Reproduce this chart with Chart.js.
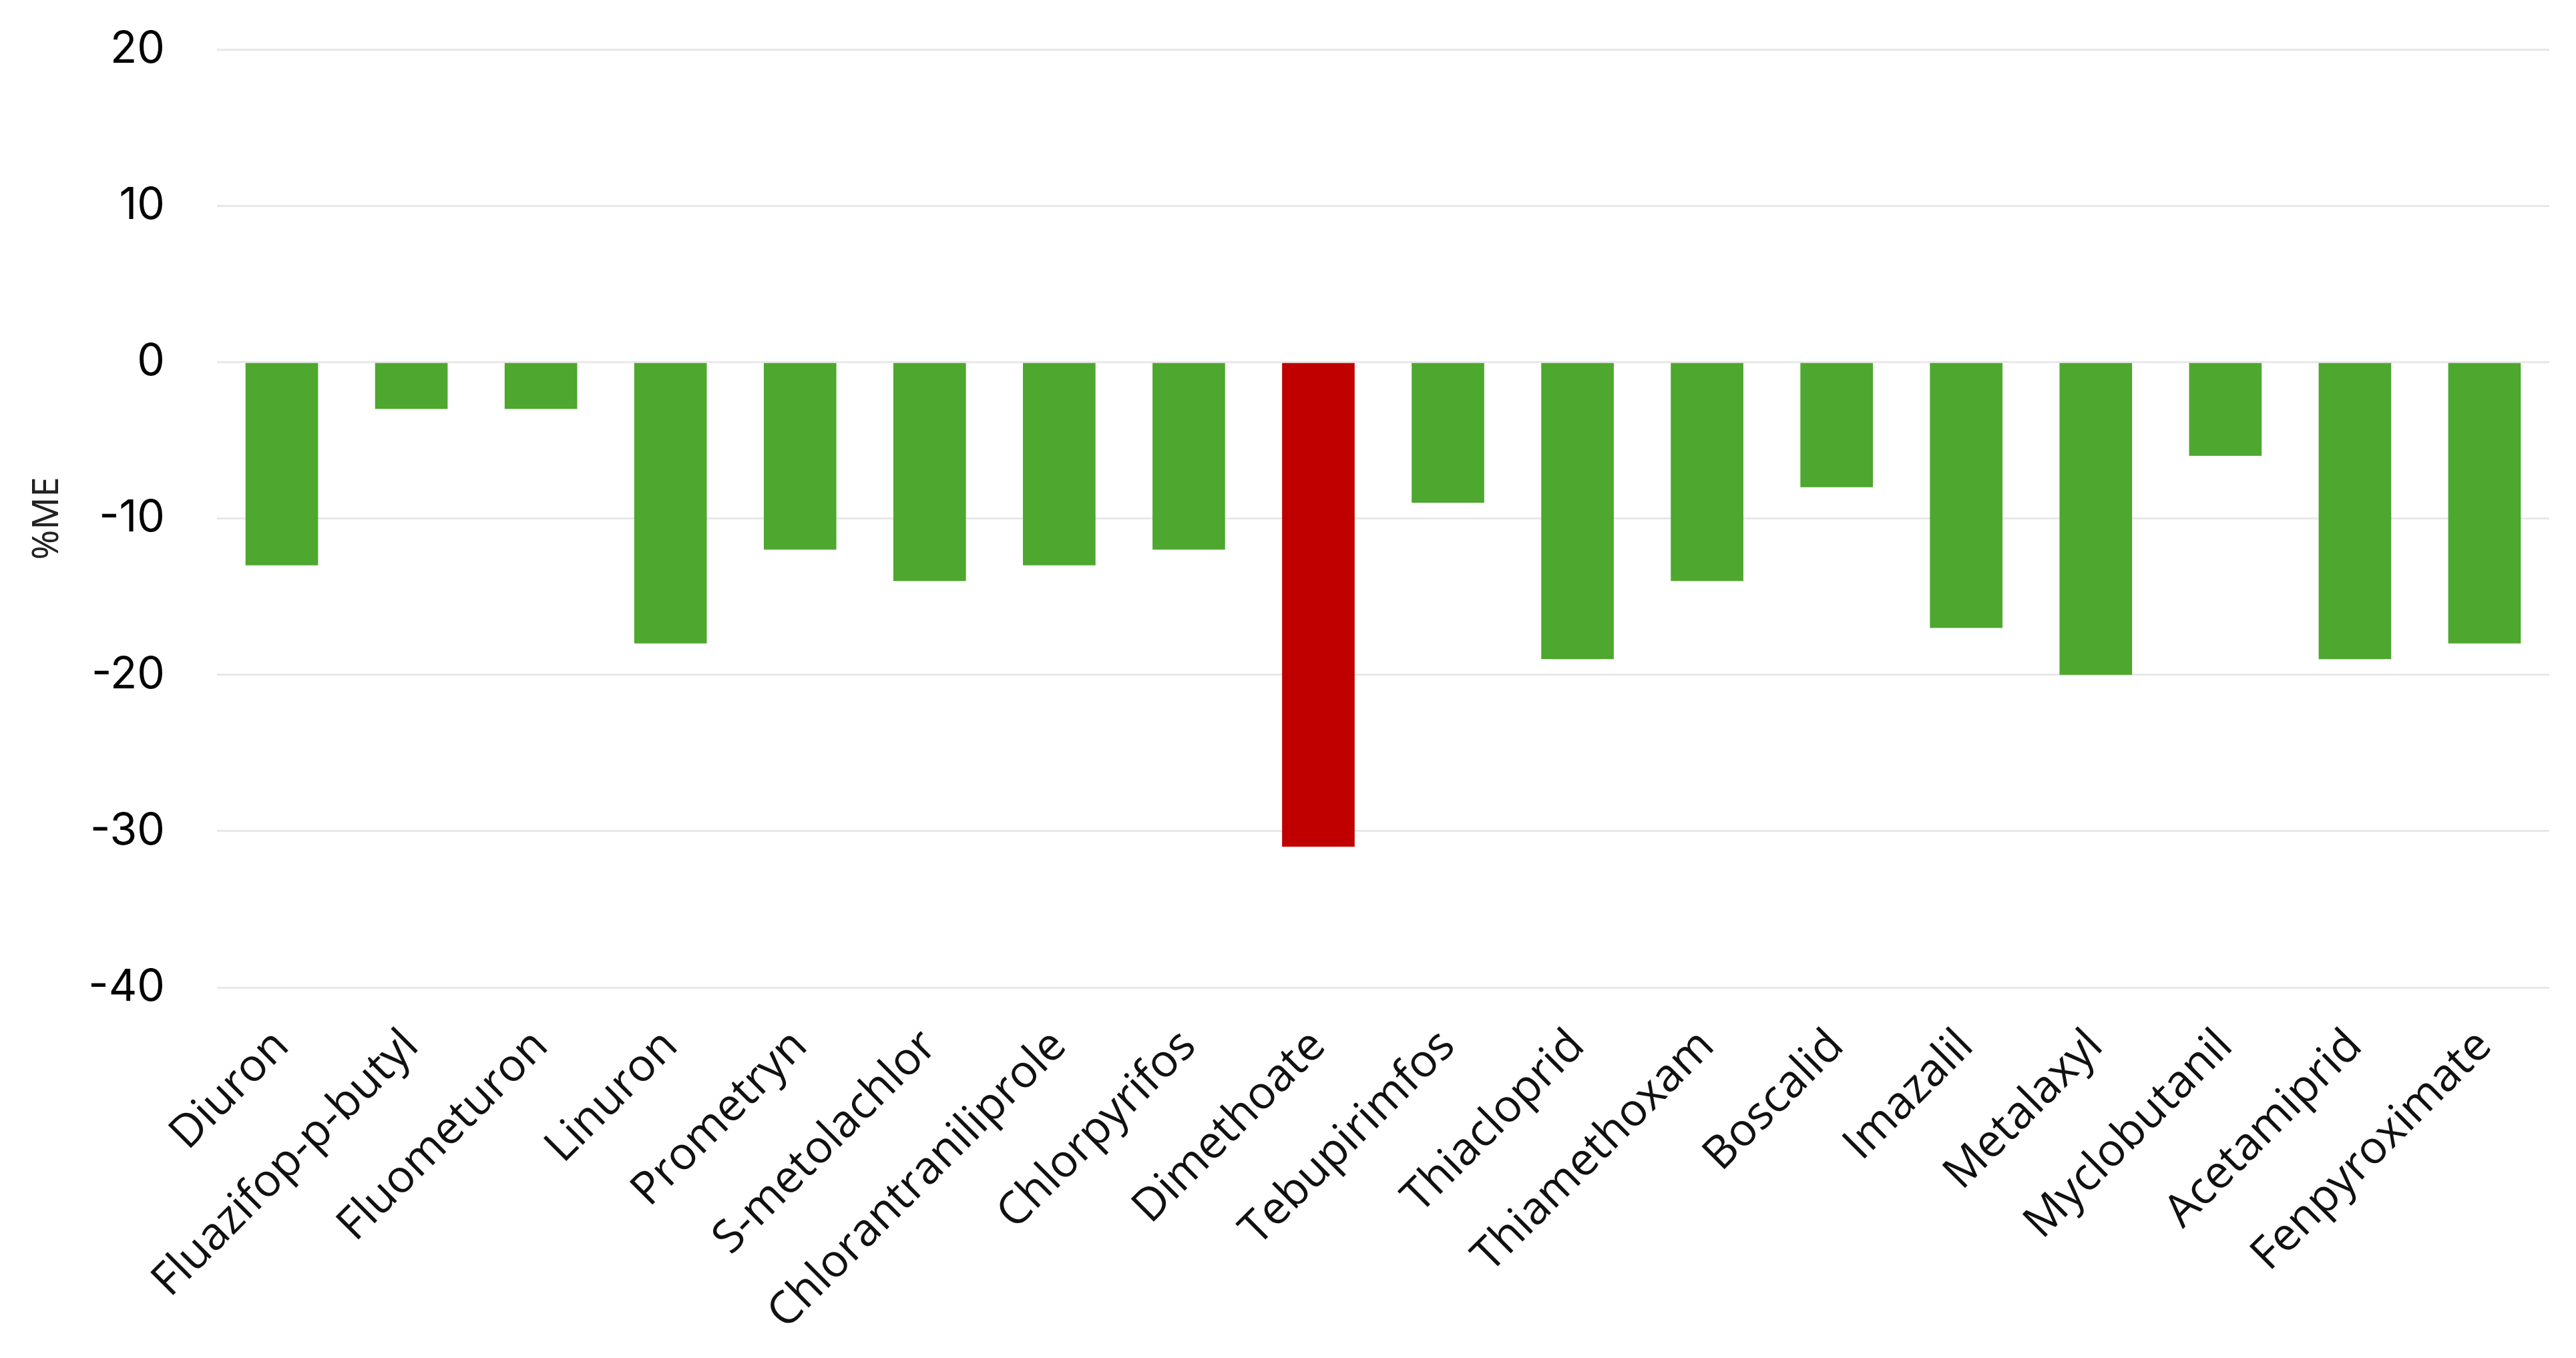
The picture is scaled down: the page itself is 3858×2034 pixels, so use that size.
<!DOCTYPE html>
<html>
<head>
<meta charset="utf-8">
<script src="https://cdn.jsdelivr.net/npm/chart.js@4.4.0/dist/chart.umd.min.js"></script>
<style>
	html, body { margin: 0; padding: 0; background: #fff; }
	#wrap { width: 3858px; height: 2034px; position: relative; }
</style>
</head>
<body>
<div id="wrap"><canvas id="meChart"></canvas></div>
<script>
const categories = ['Diuron', 'Fluazifop-p-butyl', 'Fluometuron', 'Linuron', 'Prometryn', 'S-metolachlor',
	'Chlorantraniliprole', 'Chlorpyrifos', 'Dimethoate', 'Tebupirimfos', 'Thiacloprid', 'Thiamethoxam',
	'Boscalid', 'Imazalil', 'Metalaxyl', 'Myclobutanil', 'Acetamiprid', 'Fenpyroximate'];
const me_values = [-13, -3, -3, -18, -12, -14, -13, -12, -31, -9, -19, -14, -8, -17, -20, -6, -19, -18];
const y_ticks = [20, 10, 0, -10, -20, -30, -40];
const highlight = 'Dimethoate';

const green = '#4EA72E';
const red = '#C00000';
const bar_colors = categories.map(c => c === highlight ? red : green);

new Chart('meChart', {
	type: 'bar',
	data: {
		labels: categories,
		datasets: [{
			data: me_values,
			backgroundColor: bar_colors,
			borderWidth: 0,
			categoryPercentage: 1.0,
			barPercentage: 0.56
		}]
	},
	options: {
		responsive: true,
		maintainAspectRatio: false,
		devicePixelRatio: 1,
		animation: false,
		layout: { padding: { top: 74, right: 40, left: 35, bottom: 0 } },
		plugins: { legend: { display: false }, tooltip: { enabled: false } },
		scales: {
			x: {
				grid: { display: false },
				border: { display: false },
				ticks: {
					color: '#111',
					font: { family: 'Open Sans', size: 68 },
					maxRotation: 45,
					minRotation: 45,
					padding: 40,
					autoSkip: false
				},
				afterFit: (axis) => {
					axis.height = 555;
					axis.paddingLeft = 0;
					axis.paddingRight = 0;
				}
			},
			y: {
				min: -40,
				max: 20,
				afterBuildTicks: (axis) => { axis.ticks = y_ticks.map(v => ({ value: v })); },
				grid: { color: '#e8e8e8', lineWidth: 3, drawTicks: false },
				border: { display: false },
				ticks: {
					color: '#000',
					font: { family: 'Inter', size: 66 },
					padding: 78
				},
				title: {
					display: true,
					text: '%ME',
					color: '#222',
					font: { family: 'Noto Sans', size: 54 }
				},
				afterFit: (axis) => {
					axis.width = 290;
					axis.paddingTop = 0;
					axis.paddingBottom = 0;
				}
			}
		}
	}
});
</script>
</body>
</html>
